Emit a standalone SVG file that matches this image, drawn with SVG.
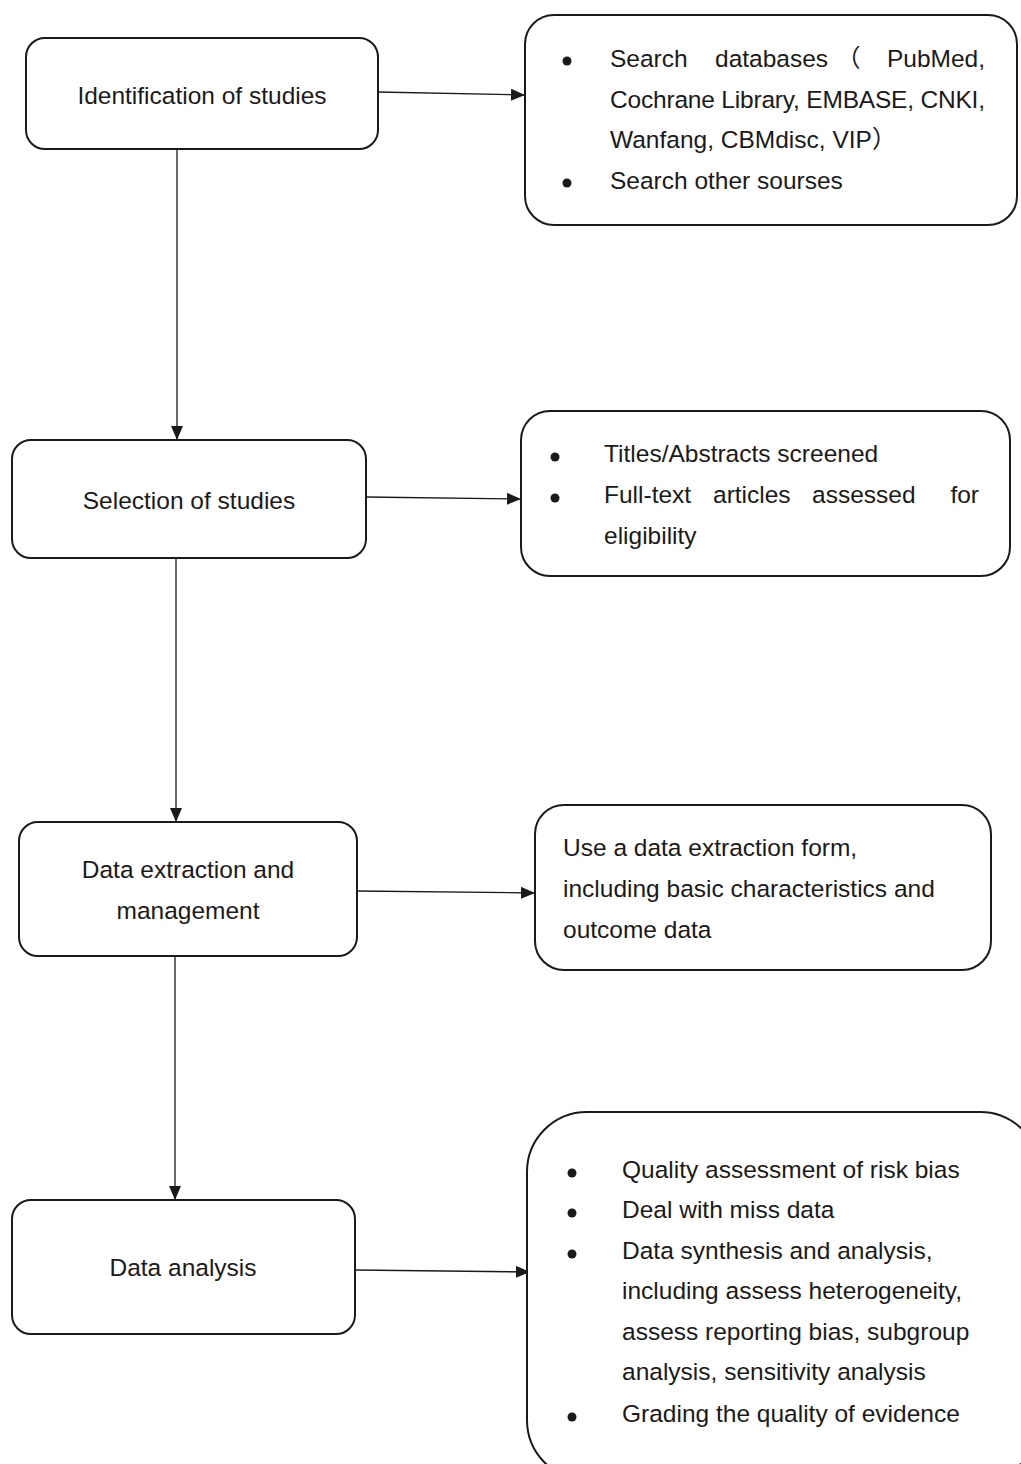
<svg xmlns="http://www.w3.org/2000/svg" width="1021" height="1464" viewBox="0 0 1021 1464">
<style>
.box{fill:#fff;stroke:#1a1a1a;stroke-width:2}
.t{font-family:"Liberation Sans",Arial,sans-serif;font-size:24.5px;fill:#1a1a1a}
.c{text-anchor:middle}
.con{stroke:#1a1a1a;stroke-width:1.3;fill:none;marker-end:url(#ah)}
.b{fill:#1a1a1a}
</style>
<defs>
<marker id="ah" viewBox="0 0 14 12" refX="14" refY="6" markerWidth="14" markerHeight="12" markerUnits="userSpaceOnUse" orient="auto">
<path d="M0,0 L14,6 L0,12 Z" fill="#1a1a1a"/>
</marker>
</defs>
<rect width="1021" height="1464" fill="#fff"/>
<g id="connectors">
<line class="con" x1="378" y1="92" x2="525" y2="95"/>
<line class="con" x1="177" y1="149" x2="177" y2="440"/>
<line class="con" x1="366" y1="497" x2="521" y2="499"/>
<line class="con" x1="176" y1="559" x2="176" y2="822"/>
<line class="con" x1="357" y1="891" x2="535" y2="893"/>
<line class="con" x1="175" y1="956" x2="175" y2="1200"/>
<line class="con" x1="355" y1="1270" x2="530" y2="1272"/>
</g>
<g id="n1">
<rect class="box" x="26" y="38" width="352" height="111" rx="19"/>
<text class="t c" x="202" y="104">Identification of studies</text>
</g>
<g id="n2">
<rect class="box" x="525" y="15" width="492" height="210" rx="29"/>
<circle class="b" cx="567" cy="61" r="4.5"/>
<text class="t" x="610" y="67">Search</text>
<text class="t" x="715" y="67">databases</text>
<text class="t" x="836" y="67" style="font-family:'Noto Sans CJK SC',sans-serif">（</text>
<text class="t" x="985" y="67" text-anchor="end">PubMed,</text>
<text class="t" x="610" y="108" textLength="375" lengthAdjust="spacing">Cochrane Library, EMBASE, CNKI,</text>
<text class="t" x="610" y="148">Wanfang, CBMdisc, VIP<tspan style="font-family:'Noto Sans CJK SC',sans-serif">）</tspan></text>
<circle class="b" cx="567" cy="183" r="4.5"/>
<text class="t" x="610" y="189">Search other sourses</text>
</g>
<g id="n3">
<rect class="box" x="12" y="440" width="354" height="118" rx="19"/>
<text class="t c" x="189" y="509">Selection of studies</text>
</g>
<g id="n4">
<rect class="box" x="521" y="411" width="489" height="165" rx="29"/>
<circle class="b" cx="555" cy="457" r="4.5"/>
<text class="t" x="604" y="462">Titles/Abstracts screened</text>
<circle class="b" cx="555" cy="498" r="4.5"/>
<text class="t" x="604" y="503">Full-text</text>
<text class="t" x="713" y="503">articles</text>
<text class="t" x="812" y="503">assessed</text>
<text class="t" x="979" y="503" text-anchor="end">for</text>
<text class="t" x="604" y="544">eligibility</text>
</g>
<g id="n5">
<rect class="box" x="19" y="822" width="338" height="134" rx="19"/>
<text class="t c" x="188" y="878">Data extraction and</text>
<text class="t c" x="188" y="919">management</text>
</g>
<g id="n6">
<rect class="box" x="535" y="805" width="456" height="165" rx="29"/>
<text class="t" x="563" y="856">Use a data extraction form,</text>
<text class="t" x="563" y="897">including basic characteristics and</text>
<text class="t" x="563" y="938">outcome data</text>
</g>
<g id="n7">
<rect class="box" x="12" y="1200" width="343" height="134" rx="19"/>
<text class="t c" x="183" y="1276">Data analysis</text>
</g>
<g id="n8">
<rect class="box" x="527" y="1112" width="513" height="368" rx="60"/>
<circle class="b" cx="572" cy="1173" r="4.5"/>
<text class="t" x="622" y="1178">Quality assessment of risk bias</text>
<circle class="b" cx="572" cy="1213" r="4.5"/>
<text class="t" x="622" y="1218">Deal with miss data</text>
<circle class="b" cx="572" cy="1254" r="4.5"/>
<text class="t" x="622" y="1259">Data synthesis and analysis,</text>
<text class="t" x="622" y="1299">including assess heterogeneity,</text>
<text class="t" x="622" y="1340">assess reporting bias, subgroup</text>
<text class="t" x="622" y="1380">analysis, sensitivity analysis</text>
<circle class="b" cx="572" cy="1417" r="4.5"/>
<text class="t" x="622" y="1422">Grading the quality of evidence</text>
</g>
</svg>
